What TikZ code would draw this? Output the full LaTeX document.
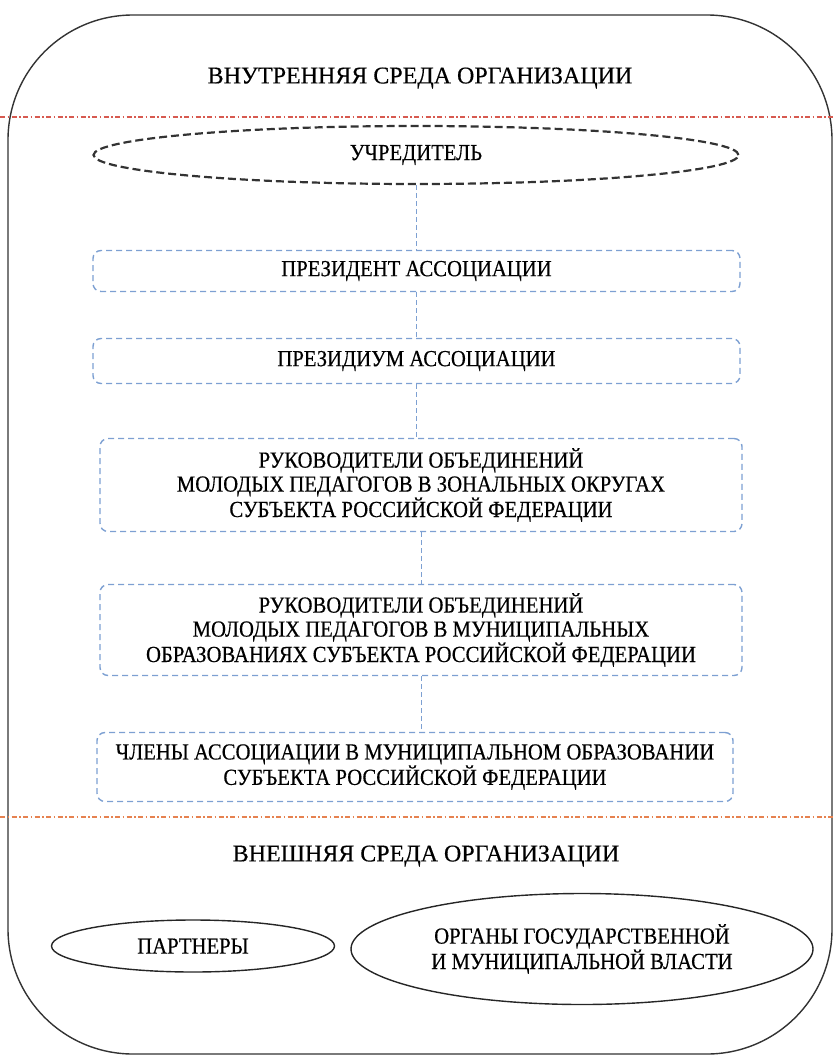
\documentclass[tikz,border=0pt]{standalone}
\usepackage{fontspec}
\setmainfont{Liberation Serif}[FakeStretch=0.9, FakeBold=0.4]
\newfontfamily\headfont{Liberation Serif}[FakeBold=0.4]
\usetikzlibrary{shapes.geometric}

\definecolor{boxblue}{RGB}{125,160,210}
\definecolor{linered}{RGB}{215,90,80}
\definecolor{lineorange}{RGB}{230,130,80}

\begin{document}
\begin{tikzpicture}[x=1pt,y=-1pt,
    every node/.style={font=\fontsize{23}{24}\selectfont, align=center, inner sep=0pt},
    envtitle/.style={font=\headfont\fontsize{24}{26}\selectfont},
    levelbox/.style={draw=boxblue, line width=1.4pt, dash pattern=on 6pt off 4pt, rounded corners=8pt},
    envline/.style={line width=1.4pt, dash pattern=on 5pt off 2.5pt on 1.5pt off 2.5pt},
    link/.style={draw=boxblue, line width=1pt, dash pattern=on 5pt off 3pt}]

        \useasboundingbox (0,0) rectangle (833,1057);

        % outer frame
        \draw[line width=1.4pt, black!80, rounded corners=125pt] (8,15) rectangle (832,1054);

        \node (inner) [envtitle] at (420,78) {ВНУТРЕННЯЯ СРЕДА ОРГАНИЗАЦИИ};
        \draw[envline, linered] (0,117) -- (833,117);

        \node (uchr) [ellipse, draw=black!80, line width=2.2pt, dash pattern=on 8pt off 4pt,
          minimum width=645pt, minimum height=58pt] at (416,155) {УЧРЕДИТЕЛЬ};

        \begin{scope}[every node/.append style={levelbox}]
          \node (prez)  [minimum width=647pt, minimum height=41pt] at (416.5,271) {ПРЕЗИДЕНТ АССОЦИАЦИИ};
          \node (prezd) [minimum width=647pt, minimum height=45pt] at (416.5,361) {ПРЕЗИДИУМ АССОЦИАЦИИ};
          \node (zon)   [minimum width=642pt, minimum height=93pt] at (421,485)
            {РУКОВОДИТЕЛИ ОБЪЕДИНЕНИЙ\\МОЛОДЫХ ПЕДАГОГОВ В ЗОНАЛЬНЫХ ОКРУГАХ\\СУБЪЕКТА РОССИЙСКОЙ ФЕДЕРАЦИИ};
          \node (mun)   [minimum width=642pt, minimum height=91pt] at (421,630)
            {РУКОВОДИТЕЛИ ОБЪЕДИНЕНИЙ\\МОЛОДЫХ ПЕДАГОГОВ В МУНИЦИПАЛЬНЫХ\\ОБРАЗОВАНИЯХ СУБЪЕКТА РОССИЙСКОЙ ФЕДЕРАЦИИ};
          \node (chl)   [minimum width=636pt, minimum height=69pt] at (415,767)
            {ЧЛЕНЫ АССОЦИАЦИИ В МУНИЦИПАЛЬНОМ ОБРАЗОВАНИИ\\СУБЪЕКТА РОССИЙСКОЙ ФЕДЕРАЦИИ};
        \end{scope}

        \begin{scope}[every edge/.style={link}]
          \path (uchr.south)  edge (uchr.south |- prez.north);
          \path (prez.south)  edge (prez.south |- prezd.north);
          \path (prezd.south) edge (prezd.south |- zon.north);
          \path (zon.south)   edge (zon.south |- mun.north);
          \path (mun.south)   edge (mun.south |- chl.north);
        \end{scope}

        \draw[envline, lineorange] (0,817) -- (833,817);
        \node (outer) [envtitle] at (426,856) {ВНЕШНЯЯ СРЕДА ОРГАНИЗАЦИИ};

        \begin{scope}[every node/.append style={ellipse, draw=black!85, line width=1.4pt}]
          \node (partn) [minimum width=283pt, minimum height=52pt] at (193,946) {ПАРТНЕРЫ};
          \node (vlast) [minimum width=462pt, minimum height=111pt] at (582,949)
            {ОРГАНЫ ГОСУДАРСТВЕННОЙ\\И МУНИЦИПАЛЬНОЙ ВЛАСТИ};
        \end{scope}

      \end{tikzpicture}
\end{document}
